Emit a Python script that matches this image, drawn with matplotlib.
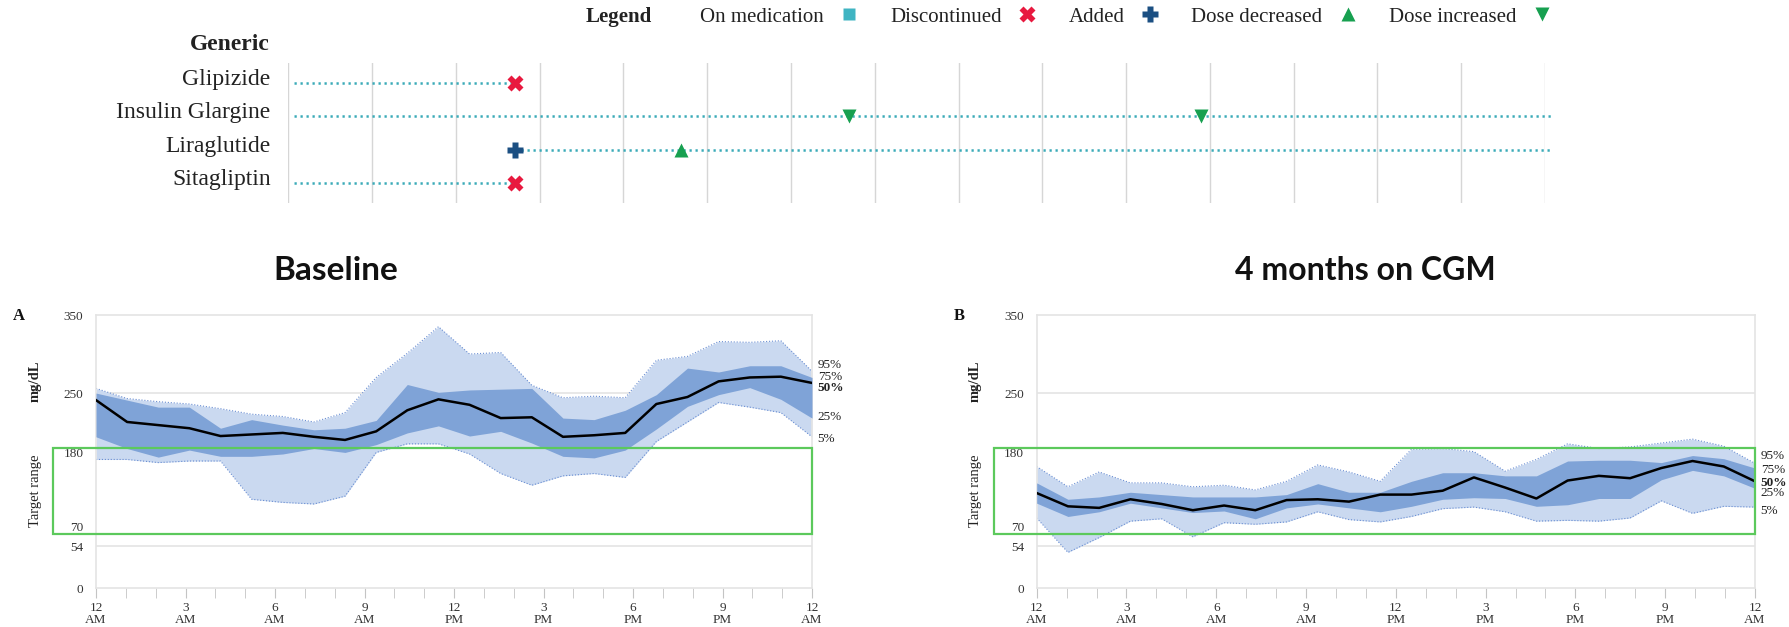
import numpy as np
import matplotlib.pyplot as plt
import matplotlib.transforms as mtransforms
from matplotlib.lines import Line2D
from matplotlib.patches import Rectangle

# --- данные: препараты ---
meds = ["Glipizide", "Insulin Glargine", "Liraglutide", "Sitagliptin"]
med_start = [0.07, 0.07, 2.7, 0.07]
med_end = [2.7, 15.1, 15.1, 2.7]
ev_discontinued = [(0, 2.7), (3, 2.7)]
ev_added = [(2, 2.7)]
ev_decreased = [(2, 4.69)]
ev_increased = [(1, 6.69), (1, 10.89)]

# --- данные: профили глюкозы (мг/дл), 24 точки за сутки ---
hours = np.linspace(0, 24, 24)

base_p95 = [256, 243, 239, 236, 230, 223, 220, 213, 225, 270, 301, 335,
            300, 302, 260, 244, 246, 244, 292, 297, 316, 315, 317, 278]
base_p75 = [250, 241, 232, 232, 205, 216, 209, 203, 205, 215, 261, 251,
            254, 255, 256, 218, 216, 228, 248, 282, 277, 285, 285, 270]
base_p50 = [241, 213, 209, 205, 195, 197, 199, 194, 190, 201, 228, 242,
            235, 218, 219, 194, 196, 199, 236, 245, 265, 270, 271, 263]
base_p25 = [194, 179, 168, 177, 169, 169, 172, 179, 174, 184, 199, 208,
            195, 201, 186, 169, 167, 177, 204, 233, 248, 257, 242, 218]
base_p5 = [165, 165, 161, 163, 163, 114, 110, 108, 118, 174, 185, 185,
           172, 147, 132, 144, 147, 142, 188, 213, 238, 232, 225, 194]

cgm_p95 = [156, 130, 149, 135, 135, 130, 132, 126, 137, 158, 149, 137,
           178, 179, 175, 150, 165, 185, 179, 181, 186, 191, 182, 160]
cgm_p75 = [135, 114, 117, 123, 120, 117, 117, 117, 120, 134, 123, 123,
           137, 148, 148, 144, 144, 163, 164, 164, 161, 170, 166, 154]
cgm_p50 = [122, 105, 103, 114, 108, 100, 106, 100, 113, 114, 111, 120,
           120, 125, 142, 129, 115, 138, 144, 141, 154, 163, 156, 137]
cgm_p25 = [109, 92, 98, 109, 103, 97, 99, 89, 103, 108, 103, 98,
           105, 114, 116, 115, 105, 107, 115, 115, 139, 151, 144, 128]
cgm_p5 = [90, 46, 65, 86, 89, 66, 84, 82, 85, 98, 88, 85,
          92, 102, 104, 98, 86, 87, 86, 90, 112, 96, 105, 104]

y_ticks = [0, 54, 70, 180, 250, 350]
x_major = [0, 3, 6, 9, 12, 15, 18, 21, 24]
x_labels = ["12\nAM", "3\nAM", "6\nAM", "9\nAM", "12\nPM",
            "3\nPM", "6\nPM", "9\nPM", "12\nAM"]
pct_labels = ["95%", "75%", "50%", "25%", "5%"]

SERIF = "Liberation Serif"
TEAL = "#3aaab8"
RED = "#e8193f"
NAVY = "#1b4f82"
GREEN_M = "#17a050"
LIGHT = "#cad9f0"
DARK = "#7fa3d7"
EDGE = "#6a8ed2"
GRID = "#e4e4e4"
BOX = "#5cc95c"

W, H = 1789, 627
fig = plt.figure(figsize=(W / 100, H / 100), dpi=100)


def fx(px):
    return px / W


def fy(py):
    return 1 - py / H


# --- верхняя часть: препараты ---
ax_m = fig.add_axes([fx(288.3), fy(203), (1545 - 288.3) / W, (203 - 63) / H])
ax_m.set_xlim(0, 15)
ax_m.set_ylim(3.59, -0.59)
ax_m.axis("off")
for k in range(16):
    ax_m.axvline(k, color="#d6d6d6", lw=1, zorder=0)
for i, (s, e) in enumerate(zip(med_start, med_end)):
    ax_m.plot([s, e], [i, i], color=TEAL, lw=1.8, linestyle=(0, (0.9, 1.5)),
              clip_on=False, zorder=1)
for i, name in enumerate(meds):
    ax_m.text(-0.21, i - 0.1, name, ha="right", va="center",
              family=SERIF, fontsize=17, color="#222222")

mk = dict(ls="", clip_on=False, zorder=3)
for r, c in ev_discontinued:
    ax_m.plot(c, r, marker="X", ms=11, color=RED, mec="none", **mk)
for r, c in ev_added:
    ax_m.plot(c, r, marker="P", ms=11, color=NAVY, mec="none", **mk)
for r, c in ev_decreased:
    ax_m.plot(c, r, marker="^", ms=10, color=GREEN_M, mec="none", **mk)
for r, c in ev_increased:
    ax_m.plot(c, r, marker="v", ms=10, color=GREEN_M, mec="none", **mk)

fig.text(fx(270), fy(45), "Generic", ha="right", va="center",
         family=SERIF, fontsize=17, weight="bold", color="#222222")

# легенда
fig.text(fx(652), fy(17), "Legend", ha="right", va="center",
         family=SERIF, fontsize=15, weight="bold", color="#222222")
handles = [
    Line2D([], [], ls="", marker="s", ms=9, color="#3fb4c2", mec="none"),
    Line2D([], [], ls="", marker="X", ms=11, color=RED, mec="none"),
    Line2D([], [], ls="", marker="P", ms=11, color=NAVY, mec="none"),
    Line2D([], [], ls="", marker="^", ms=10, color=GREEN_M, mec="none"),
    Line2D([], [], ls="", marker="v", ms=10, color=GREEN_M, mec="none"),
]
labels = ["On medication", "Discontinued", "Added", "Dose decreased", "Dose increased"]
leg = fig.legend(handles, labels, loc="center left", bbox_to_anchor=(fx(700), fy(17)),
                 ncol=5, markerfirst=False, frameon=False, handlelength=0.8,
                 handletextpad=0.8, columnspacing=1.6, borderaxespad=0, borderpad=0,
                 prop={"family": SERIF, "size": 15})
for t in leg.get_texts():
    t.set_color("#222222")


# --- панели профиля глюкозы ---
def draw_panel(ax, p5, p25, p50, p75, p95, pct_y, letter):
    ax.fill_between(hours, p5, p95, color=LIGHT, lw=0, zorder=1)
    ax.plot(hours, p95, color=EDGE, lw=0.8, ls=":", zorder=2)
    ax.plot(hours, p5, color=EDGE, lw=0.8, ls=":", zorder=2)
    ax.fill_between(hours, p25, p75, color=DARK, lw=0, zorder=3)
    ax.plot(hours, p50, color="black", lw=1.8, zorder=4)

    ax.set_xlim(0, 24)
    ax.set_ylim(0, 350)
    for yv in (250, 54):
        ax.axhline(yv, color=GRID, lw=1.2, zorder=0)
    for sp in ax.spines.values():
        sp.set_color(GRID)
        sp.set_linewidth(1.2)

    ax.set_yticks(y_ticks, labels=[str(v) for v in y_ticks])
    ax.tick_params(axis="y", length=0, pad=9)
    for v, tick in zip(y_ticks, ax.yaxis.get_major_ticks()):
        if v == 180:
            tick.label1.set_verticalalignment("top")
        elif v == 70:
            tick.label1.set_verticalalignment("bottom")
    ax.set_xticks(x_major, labels=x_labels)
    ax.set_xticks(np.arange(0, 25, 1), minor=True)
    ax.tick_params(axis="x", which="both", length=7, color="#c4c4c4", pad=3)
    for lab in ax.get_xticklabels() + ax.get_yticklabels():
        lab.set_family(SERIF)
        lab.set_fontsize(9.5)
        lab.set_color("#333333")
        lab.set_linespacing(1.0)

    tr = mtransforms.blended_transform_factory(ax.transAxes, ax.transData)
    ax.add_patch(Rectangle((-0.06, 70), 1.06, 110, transform=tr, fill=False,
                           ec=BOX, lw=1.6, clip_on=False, zorder=5))
    ax.text(-0.085, 265, "mg/dL", transform=tr, rotation=90, ha="center", va="center",
            family=SERIF, fontsize=10.5, weight="bold", color="#222222")
    ax.text(-0.085, 125, "Target range", transform=tr, rotation=90, ha="center",
            va="center", family=SERIF, fontsize=10.5, color="#222222")
    ax.text(-0.108, 349, letter, transform=tr, ha="center", va="center",
            family=SERIF, fontsize=12, weight="bold", color="#111111")
    for lbl, yv in zip(pct_labels, pct_y):
        ax.text(1.008, yv, lbl, transform=tr, ha="left", va="center", family=SERIF,
                fontsize=9.5, color="#222222",
                weight="bold" if lbl == "50%" else "normal")


ax_a = fig.add_axes([fx(96), fy(588.3), (812 - 96) / W, (588.3 - 315) / H])
draw_panel(ax_a, base_p5, base_p25, base_p50, base_p75, base_p95,
           [286, 271, 257, 219, 191], "A")

ax_b = fig.add_axes([fx(1036.7), fy(588.3), (1755 - 1036.7) / W, (588.3 - 315) / H])
draw_panel(ax_b, cgm_p5, cgm_p25, cgm_p50, cgm_p75, cgm_p95,
           [169, 152, 135, 122, 99], "B")

fig.text(fx(336), fy(270), "Baseline", ha="center", va="center",
         family="Lato", weight="bold", fontsize=24, color="#111111")
fig.text(fx(1365), fy(270), "4 months on CGM", ha="center", va="center",
         family="Lato", weight="bold", fontsize=23, color="#111111")

fig.savefig("out.png", dpi=100)
